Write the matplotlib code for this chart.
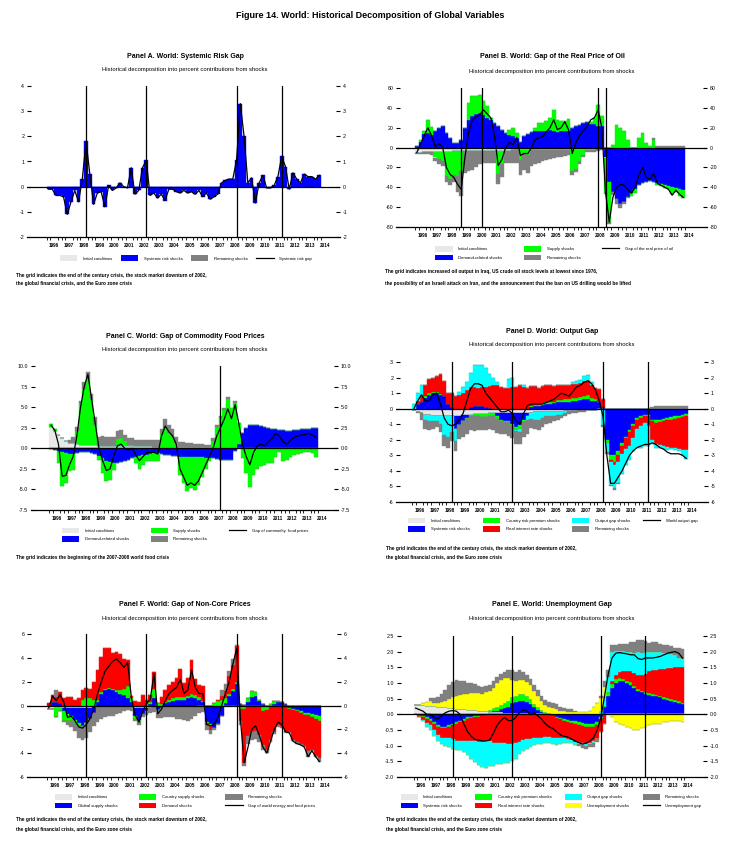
import numpy as np
import matplotlib
matplotlib.use('Agg')
import matplotlib.pyplot as plt
from matplotlib.patches import Patch
from matplotlib.lines import Line2D

plt.rcParams['font.family'] = ['Liberation Sans', 'DejaVu Sans']

# quarterly data 1996Q1 - 2014Q1
years = list(range(1996, 2015))

# Panel A: systemic risk gap
sys_a = [-0.1, -0.1, -0.35, -0.35, -0.4, -1.1, -0.6, -0.15, -0.6, 0.3, 1.8, 0.5,
         -0.7, -0.25, -0.2, -0.8, 0.05, -0.15, -0.05, 0.15, 0.0, -0.05, 0.75, -0.3,
         -0.15, 0.75, 1.05, -0.35, -0.25, -0.45, -0.3, -0.55, -0.1, -0.1, -0.2, -0.25,
         -0.15, -0.25, -0.2, -0.3, -0.15, -0.4, -0.25, -0.5, -0.4, -0.3, 0.15, 0.25,
         0.3, 0.3, 1.05, 3.3, 2.0, 0.15, 0.35, -0.65, 0.15, 0.45, -0.05, -0.05,
         0.05, 0.4, 1.2, 0.8, -0.1, 0.55, 0.3, 0.15, 0.5, 0.4, 0.4, 0.3, 0.45]
gap_a = sys_a

# Panel B: gap of the real price of oil
init_b = [-5, -5, -4.5, -4.5, -4.5, -4, -4, -4, -4, -4, -3.5, -3.5,
          -3.5, -3.5, -3.5, -3, -3, -3, -3, -3, -3, -3, -3, -3,
          -3, -3, -2.5, -2.5, -2.5, -2.5, -2.5, -2.5, -2.5, -2.5, -2, -2,
          -2, -2, -2, -2, -2, -2, -2, -2, -2, -2, -2, -2,
          -2, -1.5, -1, 0, 0, 0, 0, 0, 0, 0, 0, 0,
          0, 0, 0, 0, 0, 0, 0, 0, 0, 0, 0, 0, 0]
dem_b = [2, 6, 14, 15, 13, 17, 20, 22, 15, 10, 5, 5,
         8, 20, 28, 32, 34, 35, 33, 30, 28, 25, 22, 18,
         15, 13, 12, 10, 6, 12, 14, 16, 17, 17, 17, 17,
         18, 17, 16, 17, 17, 17, 20, 22, 23, 25, 26, 24,
         24, 22, 22, -10, -35, -45, -52, -57, -55, -50, -46, -42,
         -38, -36, -35, -34, -35, -36, -37, -38, -39, -40, -41, -42, -43]
sup_b = [0, 2, 3, 13, 8, -6, -8, -10, -25, -28, -24, -25,
         -20, 0, 17, 20, 18, 18, 14, 12, 2, 0, -24, -14,
         0, 5, 8, 5, -10, -3, -5, 0, 3, 8, 8, 10,
         12, 21, 12, 10, 10, 12, -22, -20, -12, -5, 0, 2,
         6, 21, 10, -36, -40, 3, 23, 20, 17, 8, -3, -4,
         10, 15, 5, 2, 8, -2, -2, -3, -3, -7, -4, -7, -8]
rem_b = [-1, -1.5, -2, -2, -3, -4, -5, -5, -6, -6, -7, -16,
         -25, -22, -20, -20, -17, -14, -13, -13, -13, -13, -10, -13,
         -13, -13, -13, -13, -15, -17, -18, -16, -14, -13, -12, -11,
         -10, -9, -8, -7, -6, -5, -4, -3, -3, -2, -2, -2,
         -2, -2, -1, -1, -2, -3, -5, -4, -2, -1, 0, 0,
         0, 0, 0, 0, 2, 2, 2, 2, 2, 2, 2, 2, 2]
gap_b = [-5, 3, 12, 20, 12, 1, 4, 0, -20, -27, -30, -37,
         -42, -10, 15, 28, 31, 33, 38, 34, 30, 12, -18, -12,
         0, 5, 3, 10, -8, -6, -6, 0, 8, 10, 11, 16,
         20, 28, 18, 20, 26, 18, -6, 5, 12, 17, 21, 28,
         30, 38, 20, -45, -75, -50, -40, -37, -38, -42, -46, -40,
         -28, -20, -30, -32, -26, -36, -38, -40, -42, -48, -43, -47, -50]

# Panel C: gap of commodity food prices
init_c = [2.6, 2.1, 1.6, 1.2, 0.9, 0.7, 0.6, 0.5, 0.45, 0.4, 0.4, 0.35,
          0.35, 0.3, 0.3, 0.3, 0.3, 0.3, 0.3, 0.3, 0.25, 0.25, 0.25, 0.25,
          0.25, 0.25, 0.25, 0.25, 0.2, 0.2, 0.2, 0.2, 0.2, 0.2, 0.2, 0.2,
          0.15, 0.15, 0.15, 0.15, 0.15, 0.15, 0.15, 0.15, 0.1, 0.1, 0.1, 0.1,
          0.05, 0.05, 0, 0, 0, 0, 0, 0, 0, 0, 0, 0,
          0, 0, 0, 0, 0, 0, 0, 0, 0, 0, 0, 0, 0]
dem_c = [-0.1, -0.2, -0.3, -0.5, -0.6, -0.7, -0.7, -0.6, -0.5, -0.5, -0.5, -0.6,
         -0.7, -0.9, -1.2, -1.5, -1.7, -1.8, -1.8, -1.7, -1.6, -1.4, -1.2, -1.0,
         -0.9, -0.8, -0.8, -0.7, -0.6, -0.6, -0.7, -0.8, -0.8, -0.9, -0.9, -1.0,
         -1.0, -1.0, -1.0, -1.0, -1.1, -1.1, -1.2, -1.2, -1.2, -1.3, -1.4, -1.4,
         -1.4, -1.4, -0.3, 0.5, 1.9, 2.5, 2.8, 2.8, 2.8, 2.7, 2.6, 2.5,
         2.4, 2.3, 2.2, 2.2, 2.1, 2.1, 2.2, 2.2, 2.3, 2.4, 2.4, 2.5, 2.5]
sup_c = [0.3, 0.2, -1.5, -4.1, -3.6, -2.0, -1.9, 1.6, 5.0, 6.8, 8.0, 5.5,
         2.5, -0.5, -1.8, -2.5, -2.2, -0.8, 0.8, 1.0, 0.6, 0.2, 0.2, -0.8,
         -1.6, -1.2, -0.7, -0.8, -0.9, -1.0, 1.5, 2.3, 1.6, 1.2, 0.4, -2.2,
         -3.2, -4.2, -3.8, -4.1, -3.4, -2.4, -1.3, -0.3, 0.8, 2.5, 3.6, 4.6,
         6.0, 4.8, 5.5, 2.6, -1.2, -3.0, -4.7, -3.2, -2.5, -2.2, -2.0, -1.8,
         -1.8, -1.0, -0.5, -1.5, -1.4, -1.0, -0.8, -0.7, -0.6, -0.5, -0.4, -0.6, -1.0]
rem_c = [0, 0, 0, 0, 0, 0.3, 0.8, 0.5, 0.3, 0.8, 0.9, 0.8,
         1.0, 1.1, 1.2, 1.1, 1.1, 1.1, 1.0, 0.9, 0.8, 0.8, 0.8, 0.8,
         0.8, 0.8, 0.8, 0.8, 0.8, 0.8, 0.6, 1.0, 1.0, 1.0, 0.8, 0.6,
         0.6, 0.5, 0.5, 0.4, 0.4, 0.4, 0.3, 0.3, 0.3, 0.2, 0.2, 0.2,
         0.2, 0.1, 0.2, 0, 0, 0, 0, 0, 0, 0, 0, 0,
         0, 0, 0, 0, 0, 0, 0, 0, 0, 0, 0, 0, 0]
gap_c = [2.8, 2.2, 0.5, -3.4, -3.3, -2.0, -1.0, 1.5, 5.0, 7.5, 9.0, 6.0,
         3.0, 0.0, -1.5, -2.7, -2.5, -1.0, 0.3, 0.5, 0.0, -0.2, 0.0, -0.8,
         -1.5, -1.0, -0.5, -0.5, -0.5, -0.7, 1.5, 2.7, 2.0, 1.5, 0.5, -2.5,
         -3.5, -4.5, -4.2, -4.5, -4.0, -3.0, -2.0, -1.0, 0.0, 1.5, 2.5, 3.5,
         4.8, 3.6, 5.3, 3.0, 0.5, -1.0, -2.0, -0.5, 0.3, 0.5, 0.3, 0.8,
         1.2, 1.8, 1.5, 0.8, 0.5, 1.0, 1.3, 1.5, 1.6, 1.7, 1.8, 1.6, 1.3]

# Panel D: output gap
init_d = [-0.1, -0.2, -0.3, -0.4, -0.4, -0.5, -0.5, -0.5, -0.5, -0.5, -0.5, -0.5,
          -0.45, -0.4, -0.4, -0.4, -0.35, -0.35, -0.35, -0.35, -0.3, -0.3, -0.3, -0.3,
          -0.3, -0.3, -0.3, -0.3, -0.25, -0.25, -0.25, -0.25, -0.2, -0.2, -0.2, -0.2,
          -0.2, -0.2, -0.2, -0.2, -0.15, -0.15, -0.15, -0.15, -0.1, -0.1, -0.1, -0.1,
          -0.1, -0.05, 0, 0, 0, 0, 0, 0, 0, 0, 0, 0,
          0, 0, 0, 0, 0, 0, 0, 0, 0, 0, 0, 0, 0]
sys_d = [0, 0.3, 0.4, 0.7, 0.9, 1.0, 1.0, 0.9, 0.8, 0.3, 0.1, -0.8,
         -0.6, -0.4, -0.2, 0.1, 0.2, 0.2, 0.2, 0.1, 0.05, 0, -0.2, -0.4,
         -0.5, -0.5, -0.7, -0.9, -0.8, -0.5, -0.2, 0.1, 0.2, 0.2, 0.25, 0.3,
         0.3, 0.35, 0.4, 0.4, 0.45, 0.45, 0.5, 0.5, 0.55, 0.6, 0.6, 0.5,
         0.5, 0.4, 0.1, -2.0, -3.0, -3.0, -2.7, -2.2, -1.8, -1.4, -1.0, -0.6,
         -0.5, -0.4, -0.4, -0.7, -0.75, -0.7, -0.65, -0.6, -0.55, -0.5, -0.45, -0.4, -0.35]
crp_d = [0, 0, 0.05, 0.1, 0.1, 0.1, 0.1, 0.05, 0, 0, 0, 0,
         0, 0, -0.05, -0.1, -0.1, -0.15, -0.2, -0.2, -0.2, -0.2, -0.15, -0.1,
         -0.05, -0.05, -0.1, -0.15, -0.25, -0.1, 0, 0.05, 0.05, 0.05, 0.1, 0.1,
         0.1, 0.1, 0.15, 0.15, 0.15, 0.15, 0.2, 0.2, 0.2, 0.2, 0.25, 0.2,
         0.1, 0.05, -0.05, -0.2, -0.3, -0.4, -0.3, -0.2, -0.1, -0.1, -0.1, -0.1,
         -0.1, -0.1, -0.1, -0.1, -0.15, -0.15, -0.15, -0.15, -0.15, -0.15, -0.15, -0.15, -0.1]
rir_d = [0, 0.2, 0.4, 0.7, 0.9, 0.9, 1.0, 1.3, 1.0, 0.7, 0.9, 0.8,
         0.9, 1.0, 1.2, 1.3, 1.2, 1.1, 1.2, 1.3, 1.4, 1.5, 1.5, 1.4,
         1.3, 1.3, 1.4, 1.4, 1.5, 1.4, 1.3, 1.3, 1.2, 1.1, 1.1, 1.1,
         1.1, 1.0, 1.0, 1.0, 0.9, 0.9, 0.9, 0.9, 0.9, 1.0, 0.9, 0.8,
         0.7, 0.8, 0.5, 0, -0.1, -0.2, -0.4, -0.5, -0.7, -0.9, -0.8, -0.6,
         -0.5, -0.4, -0.6, -1.2, -1.4, -1.5, -1.6, -1.7, -1.8, -1.9, -2.0, -2.1, -2.2]
og_d = [0.3, 0.5, 0.7, -0.3, -0.4, -0.3, -0.3, -0.5, -1.2, -1.3, -1.0, -0.8,
        0.2, 0.4, 0.5, 0.9, 1.4, 1.5, 1.4, 1.2, 0.8, 0.5, 0.2, 0,
        0, 0.6, 0.6, -0.1, -0.2, 0.1, -0.3, -0.4, -0.5, -0.5, -0.4, -0.3,
        -0.3, -0.3, -0.2, -0.2, -0.1, 0, 0.1, 0.2, 0.2, 0.3, 0.4, 0.2,
        0, 0, -1.0, -0.6, -1.5, -1.5, -1.4, -1.3, -1.0, -0.9, -0.8, -1.2,
        -1.4, -1.5, -1.3, -0.3, -0.2, -0.2, -0.2, -0.2, -0.1, -0.1, -0.1, -0.3, -0.6]
rem_d = [0, -0.1, -0.4, -0.6, -0.6, -0.5, -0.4, -0.5, -0.7, -0.7, -0.6, -0.6,
         -0.9, -1.0, -1.0, -0.9, -1.0, -0.9, -0.8, -0.8, -0.8, -0.9, -0.9, -0.8,
         -0.8, -0.9, -0.8, -0.8, -0.8, -1.0, -0.9, -0.6, -0.6, -0.7, -0.6, -0.5,
         -0.4, -0.3, -0.3, -0.2, -0.2, -0.2, -0.1, -0.1, -0.1, -0.1, 0, 0,
         0, 0, -0.1, -0.1, -0.1, -0.1, -0.05, 0, 0, 0, 0, 0,
         0, 0, 0, 0.1, 0.15, 0.15, 0.15, 0.15, 0.15, 0.15, 0.2, 0.2, 0.2]
gap_d = [0.0, 0.5, 0.9, 0.5, 0.5, 0.9, 1.0, 0.3, -0.6, -1.0, -1.1, -1.0,
         -0.7, -0.3, 0.5, 1.3, 1.6, 1.6, 1.5, 1.0, 0.7, 0.4, 0.1, -0.2,
         -0.2, -0.1, -0.3, -0.8, -1.0, -0.3, 0.2, 0.3, 0.3, 0.3, 0.3, 0.4,
         0.5, 0.6, 0.8, 1.0, 0.9, 0.8, 1.1, 1.4, 1.5, 1.7, 1.8, 1.6,
         1.2, 0.5, -0.5, -3.0, -4.8, -4.8, -4.4, -4.0, -3.5, -3.0, -2.7, -2.5,
         -2.4, -2.3, -2.3, -2.2, -2.3, -2.5, -2.6, -2.8, -2.9, -2.9, -2.9, -3.0, -3.2]

# Panel F: gap of non-core prices
init_f = [-0.3, -0.3, -0.25, -0.25, -0.2, -0.2, -0.2, -0.2, -0.2, -0.2, -0.2, -0.2,
          -0.15, -0.15, -0.15, -0.15, -0.15, -0.15, -0.15, -0.15, -0.1, -0.1, -0.15, -0.2,
          -0.2, -0.2, -0.2, -0.2, -0.15, -0.15, -0.15, -0.15, -0.1, -0.1, -0.1, -0.1,
          -0.1, -0.1, -0.1, -0.1, -0.05, -0.05, -0.05, -0.05, -0.05, -0.05, -0.05, -0.05,
          0, 0, 0, 0, 0, 0, 0, 0, 0, 0, 0, 0,
          0, 0, 0, 0, 0, 0, 0, 0, 0, 0, 0, 0, 0]
gsup_f = [0, 0.3, 0.3, 0.2, -0.3, -0.5, -0.7, -1.0, -1.3, -1.5, -1.3, -0.9,
          -0.5, 0.3, 1.0, 1.3, 1.4, 1.3, 1.1, 1.0, 0.9, 0.6, 0.3, -0.7,
          -1.0, -0.5, -0.3, 0.1, 0.6, -0.2, -0.1, 0.2, 0.3, 0.4, 0.5, 0.5,
          0.5, 0.6, 0.7, 0.6, 0.5, 0.3, -1.3, -1.5, -1.8, -1.5, -0.8, 0.2,
          0.8, 1.2, 1.8, 0.1, 0.05, 0.3, 0.7, 0.8, 0.4, 0.1, 0.0, 0.0,
          0.1, 0.3, 0.3, 0.1, -0.2, -0.3, -0.4, -0.5, -0.6, -0.6, -0.7, -0.8, -0.9]
csup_f = [0, 0, -0.7, -0.2, -0.8, -0.6, -0.4, -0.3, -0.2, 0.5, 0.6, 0.6,
          0.5, 0.2, 0.1, 0.1, 0.1, 0.1, 0.2, 0.3, 0.5, 1.0, 0.3, -0.2,
          -0.2, 0.0, 0.1, 0.2, 0.8, 0.2, 0.1, 0.1, 0.2, 0.2, 0.2, 0.2,
          0.2, 0.2, 0.3, 0.3, 0.2, 0.1, -0.1, -0.2, 0.2, 0.4, 0.5, 0.4,
          0.2, 0.2, 0.2, -0.3, -0.3, 0.3, 0.5, 0.3, 0.1, -0.5, -0.4, 0.1,
          0.3, 0.1, 0.0, -0.1, -0.1, -0.1, -0.1, -0.15, -0.2, -0.2, -0.3, -0.3, -0.4]
dem_f = [0.2, 0.6, 0.4, 0.9, 0.6, 0.7, 0.7, 0.5, 0.6, 0.8, 0.9, 0.8,
         1.5, 2.5, 3.0, 3.4, 3.3, 3.0, 3.2, 3.0, 2.5, 2.2, 0.2, 0.4,
         0.3, 0.9, 0.4, 0.6, 1.4, 0.0, 0.6, 1.0, 1.2, 1.4, 1.6, 2.4,
         1.2, 1.5, 2.8, 1.3, 1.0, 1.2, -0.2, -0.3, 0.0, 0.1, 0.3, 0.6,
         1.5, 2.0, 3.0, -1.0, -4.5, -2.6, -2.2, -2.1, -2.5, -2.8, -3.3, -2.9,
         -2.2, -1.6, -1.8, -2.1, -1.9, -2.5, -2.6, -2.6, -2.6, -3.0, -2.7, -3.1, -3.1]
rem_f = [0, 0, 0.6, 0, -0.1, -0.3, -0.5, -0.6, -1.0, -1.2, -1.2, -1.1,
         -1.1, -1.2, -1.0, -0.8, -0.7, -0.7, -0.6, -0.5, -0.4, -0.3, -0.3, -0.2,
         -0.2, -0.3, -0.3, -0.4, -0.4, -0.7, -0.8, -0.8, -0.9, -0.9, -1.0, -1.0,
         -1.1, -1.2, -1.0, -0.8, -0.6, -0.5, -0.4, -0.3, -0.2, -0.1, 0.5, 0.6,
         0.4, 0.5, 0.1, -0.3, -0.3, -0.6, -0.7, -0.7, -0.6, -0.4, -0.3, -0.2,
         -0.2, -0.2, -0.1, -0.1, -0.1, -0.1, -0.1, -0.1, -0.1, -0.5, -0.1, -0.1, -0.3]
gap_f = [-0.2, 0.8, 0.4, 0.9, 0.3, -1.0, -0.9, -1.3, -1.8, -1.9, -1.6, -1.1,
         -0.3, 1.0, 2.0, 2.9, 3.3, 3.7, 3.9, 3.6, 3.2, 3.6, 0.6, -0.8,
         -1.4, -0.5, 0.2, 0.5, 2.7, -0.7, -0.3, 0.4, 1.0, 1.3, 1.5, 2.2,
         1.0, 1.3, 3.0, 1.5, 1.0, 1.0, -1.6, -1.7, -1.6, -1.0, 0.0, 1.0,
         2.0, 3.5, 4.8, -1.2, -4.8, -3.5, -2.0, -1.7, -2.5, -3.5, -4.0, -3.0,
         -2.0, -1.4, -1.6, -2.2, -2.3, -3.0, -3.2, -3.3, -3.5, -4.3, -3.8, -4.3, -4.7]

# Panel E: unemployment gap
init_e = [0.3, 0.3, 0.3, 0.28, 0.27, 0.26, 0.25, 0.24, 0.22, 0.2, 0.19, 0.18,
          0.17, 0.16, 0.15, 0.14, 0.13, 0.12, 0.11, 0.1, 0.09, 0.08, 0.07, 0.06,
          0.05, 0.05, 0.05, 0.05, 0.04, 0.04, 0.04, 0.04, 0.03, 0.03, 0.03, 0.03,
          0.02, 0.02, 0.02, 0.02, 0.02, 0.02, 0.02, 0.02, 0.02, 0.02, 0.02, 0.02,
          0.02, 0.02, 0.02, 0.02, 0, 0, 0, 0, 0, 0, 0, 0,
          0, 0, 0, 0, 0, 0, 0, 0, 0, 0, 0, 0, 0]
sys_e = [0, -0.02, -0.05, -0.1, -0.15, -0.25, -0.35, -0.4, -0.4, -0.35, -0.3, -0.25,
         -0.2, -0.15, -0.1, -0.08, -0.06, -0.05, -0.04, -0.02, 0, 0.02, 0.05, 0.1,
         0.15, 0.2, 0.3, 0.35, 0.4, 0.4, 0.35, 0.3, 0.2, 0.12, 0.05, 0.0,
         -0.03, -0.06, -0.1, -0.12, -0.15, -0.18, -0.2, -0.22, -0.25, -0.27, -0.3, -0.3,
         -0.3, -0.25, -0.1, 0.2, 0.6, 0.85, 1.0, 1.05, 1.05, 1.0, 0.95, 0.85,
         0.75, 0.7, 0.65, 0.62, 0.6, 0.58, 0.55, 0.5, 0.47, 0.44, 0.4, 0.36, 0.32]
crp_e = [0, 0, -0.02, -0.04, -0.05, -0.05, -0.05, -0.05, -0.05, -0.05, -0.05, -0.05,
         -0.05, -0.05, -0.04, -0.03, -0.02, -0.02, -0.01, 0, 0.05, 0.1, 0.12, 0.14,
         0.15, 0.17, 0.2, 0.2, 0.22, 0.2, 0.18, 0.15, 0.1, 0.07, 0.05, 0.03,
         0.02, 0, -0.02, -0.03, -0.05, -0.07, -0.08, -0.1, -0.1, -0.1, -0.1, -0.1,
         -0.1, -0.08, -0.05, 0.05, 0.1, 0.12, 0.12, 0.1, 0.08, 0.07, 0.07, 0.06,
         0.06, 0.05, 0.05, 0.05, 0.05, 0.05, 0.05, 0.05, 0.05, 0.05, 0.05, 0.05, 0.05]
rir_e = [0, -0.05, -0.1, -0.15, -0.15, -0.2, -0.25, -0.3, -0.3, -0.35, -0.45, -0.55,
         -0.6, -0.65, -0.7, -0.75, -0.78, -0.8, -0.82, -0.84, -0.85, -0.9, -0.9, -0.9,
         -0.9, -0.95, -0.95, -0.92, -0.88, -0.82, -0.8, -0.78, -0.76, -0.75, -0.74, -0.72,
         -0.7, -0.68, -0.65, -0.6, -0.55, -0.55, -0.55, -0.55, -0.55, -0.55, -0.55, -0.5,
         -0.45, -0.45, -0.4, -0.3, 0, 0.1, 0.15, 0.2, 0.25, 0.3, 0.35, 0.4,
         0.45, 0.5, 0.6, 0.7, 0.75, 0.8, 0.85, 0.9, 0.95, 1.0, 1.05, 1.1, 1.15]
og_e = [0, -0.03, -0.05, -0.1, -0.15, -0.2, -0.2, -0.2, -0.25, -0.3, -0.3, -0.3,
        -0.3, -0.35, -0.45, -0.55, -0.65, -0.75, -0.8, -0.85, -0.8, -0.75, -0.7, -0.7,
        -0.65, -0.6, -0.55, -0.5, -0.4, -0.35, -0.3, -0.25, -0.22, -0.2, -0.2, -0.2,
        -0.2, -0.2, -0.2, -0.2, -0.15, -0.12, -0.1, -0.1, -0.05, -0.05, -0.05, -0.05,
        -0.05, 0, 0.1, 0.3, 0.5, 0.93, 0.75, 0.68, 0.65, 0.63, 0.63, 0.65,
        0.72, 0.72, 0.68, 0.62, 0.6, 0.57, 0.55, 0.52, 0.48, 0.44, 0.38, 0.3, 0.25]
un_e = [0, 0, 0.05, 0.12, 0.15, 0.1, 0.1, 0.15, 0.2, 0.3, 0.35, 0.4,
        0.45, 0.5, 0.5, 0.55, 0.55, 0.55, 0.55, 0.6, 0.6, 0.65, 0.75, 0.8,
        0.8, 0.75, 0.55, 0.45, 0.45, 0.45, 0.45, 0.45, 0.4, 0.35, 0.3, 0.25,
        0.2, 0.18, 0.15, 0.1, 0.08, 0.06, 0.05, 0.05, 0.05, 0.05, 0.05, 0.1,
        0.2, 0.35, 0.4, 0.3, 0, -0.1, -0.25, -0.3, -0.35, -0.4, -0.45, -0.5,
        -0.5, -0.45, -0.4, -0.35, -0.3, -0.3, -0.3, -0.25, -0.25, -0.2, -0.2, -0.2, -0.25]
rem_e = [0, 0, 0, 0, 0.1, 0.15, 0.2, 0.25, 0.35, 0.45, 0.5, 0.5,
         0.45, 0.4, 0.35, 0.3, 0.3, 0.25, 0.2, 0.2, 0.2, 0.2, 0.2, 0.2,
         0.2, 0.25, 0.3, 0.3, 0.3, 0.25, 0.25, 0.2, 0.2, 0.2, 0.15, 0.15,
         0.15, 0.15, 0.15, 0.1, 0.1, 0.1, 0.1, 0.05, -0.05, -0.1, -0.1, -0.1,
         -0.15, -0.1, 0.05, 0.2, 0.2, 0.2, 0.2, 0.2, 0.2, 0.25, 0.3, 0.35,
         0.4, 0.4, 0.35, 0.3, 0.3, 0.3, 0.25, 0.25, 0.25, 0.25, 0.25, 0.3, 0.3]
gap_e = [0.2, 0.15, 0.1, 0.0, 0.0, -0.1, -0.15, -0.05, 0.05, 0.1, 0.12, 0.1,
         0.0, -0.3, -0.55, -0.7, -0.8, -0.82, -0.85, -0.85, -0.82, -0.6, -0.35, -0.2,
         -0.1, -0.2, -0.2, -0.1, 0.05, 0.15, 0.1, 0.0, 0.05, -0.05, -0.15, -0.3,
         -0.4, -0.45, -0.55, -0.65, -0.7, -0.72, -0.78, -0.85, -0.9, -0.95, -0.92, -0.85,
         -0.75, -0.5, -0.1, 0.6, 1.3, 1.8, 1.95, 1.97, 1.95, 1.93, 1.9, 1.9,
         1.78, 1.75, 1.8, 1.8, 1.8, 1.82, 1.85, 1.9, 1.95, 1.98, 2.0, 1.95, 1.8]

C_INIT, C_BLUE, C_GREEN, C_RED = '#e8e8e8', '#0000ff', '#00ff00', '#ff0000'
C_CYAN, C_YEL, C_GRAY = '#00ffff', '#ffff00', '#808080'

W, H = 743, 841
fig = plt.figure(figsize=(W / 100, H / 100), dpi=100)
xq = 1996 + 0.25 * np.arange(len(sys_a)) + 0.125

NOTE = 3.4


def txt(x, y, s, size, bold=False, ha='center'):
    fig.text(x / W, 1 - y / H, s, ha=ha, va='center', fontsize=size,
             fontweight='bold' if bold else 'normal')


def panel(box, xlim, ylim, yticks, fmt, comps, cols, gap, vlines):
    l, t, r, b = box
    ax = fig.add_axes([l / W, 1 - b / H, (r - l) / W, (b - t) / H])
    pos = np.zeros(len(xq))
    neg = np.zeros(len(xq))
    for vals, c in zip(comps, cols):
        v = np.asarray(vals, float)
        p = np.where(v > 0, v, 0)
        q = np.where(v < 0, v, 0)
        ax.bar(xq, p, 0.25, bottom=pos, color=c, edgecolor=c, lw=0.3, zorder=1)
        ax.bar(xq, q, 0.25, bottom=neg, color=c, edgecolor=c, lw=0.3, zorder=1)
        pos += p
        neg += q
    ax.plot(xq, gap, color='black', lw=0.9, zorder=4)
    ax.axhline(0, color='black', lw=0.9, zorder=3)
    for v in vlines:
        ax.axvline(v, color='black', lw=0.9, zorder=3)
    ax.set_xlim(xlim)
    ax.set_ylim(ylim)
    for s in ['top', 'left', 'right']:
        ax.spines[s].set_visible(False)
    ax.spines['bottom'].set_linewidth(0.9)
    ax.set_yticks(yticks)
    ax.set_yticklabels([fmt % y for y in yticks])
    ax.tick_params(axis='y', direction='in', length=3, width=0.8, labelsize=3.8,
                   left=True, right=True, labelleft=True, labelright=True, pad=2)
    ax.set_xticks([y + 0.5 for y in years])
    ax.set_xticklabels([str(y) for y in years], fontweight='bold')
    ax.set_xticks(1996 + 0.25 * np.arange(74), minor=True)
    ax.tick_params(axis='x', which='major', length=0, labelsize=3.3, pad=4.5)
    ax.tick_params(axis='x', which='minor', length=2.5, width=0.6, direction='out')
    return ax


def legend(cx, top, labels, cols, line_label, ncol, colsp):
    hs = [Patch(facecolor=c, edgecolor='none', label=s) for s, c in zip(labels, cols)]
    hs.append(Line2D([], [], color='black', lw=0.9, label=line_label))
    fig.legend(handles=hs, loc='upper center', bbox_to_anchor=(cx / W, 1 - top / H),
               ncol=ncol, frameon=False, fontsize=3.1, handlelength=4.0, handleheight=1.6,
               handletextpad=1.3, columnspacing=colsp, labelspacing=0.75,
               borderpad=0, borderaxespad=0)


crisis = [1998.625, 2002.625, 2008.625, 2011.625]
sub = 'Historical decomposition into percent contributions from shocks'
note1 = 'The grid indicates the end of the century crisis, the stock market downturn of 2002,'
note2 = 'the global financial crisis, and the Euro zone crisis'

txt(370, 15, 'Figure 14. World: Historical Decomposition of Global Variables', 6.5, True)

# Panel A
txt(185, 56, 'Panel A. World: Systemic Risk Gap', 5.0, True)
txt(185, 69, sub, 4.2)
panel((27, 86, 340, 237), (1994.7, 2015.5), (-2, 4), range(-2, 5), '%d',
      [sys_a], [C_BLUE], gap_a, crisis)
legend(186, 255.5, ['Initial conditions', 'Systemic risk shocks', 'Remaining shocks'],
       [C_INIT, C_BLUE, C_GRAY], 'Systemic risk gap', 4, 2.0)
txt(16, 275, note1, NOTE, True, 'left')
txt(16, 283.5, note2, NOTE, True, 'left')

# Panel B
txt(552, 57, 'Panel B. World: Gap of the Real Price of Oil', 5.0, True)
txt(552, 71, sub, 4.2)
panel((396, 88, 707, 227), (1994.72, 2015.73), (-80, 60), range(-80, 61, 20), '%d',
      [init_b, dem_b, sup_b, rem_b], [C_INIT, C_BLUE, C_GREEN, C_GRAY], gap_b,
      [1999.125, 2000.5, 2008.375, 2008.875])
legend(554, 246, ['Initial conditions', 'Demand-related shocks', 'Supply shocks', 'Remaining shocks'],
       [C_INIT, C_BLUE, C_GREEN, C_GRAY], 'Gap of the real price of oil', 3, 5)
txt(385, 271, 'The grid indicates increased oil output in Iraq, US crude oil stock levels at lowest since 1976,', NOTE, True, 'left')
txt(385, 283.5, 'the possibility of an Israeli attack on Iran, and the announcement that the ban on US drilling would be lifted', NOTE, True, 'left')

# Panel C
txt(185, 336, 'Panel C. World: Gap of Commodity Food Prices', 5.0, True)
txt(185, 349, sub, 4.2)
panel((31, 366, 338, 510), (1994.76, 2015.61), (-7.5, 10), np.arange(-7.5, 10.1, 2.5), '%.1f',
      [init_c, dem_c, sup_c, rem_c], [C_INIT, C_BLUE, C_GREEN, C_GRAY], gap_c, [2007.625])
legend(185, 527.5, ['Initial conditions', 'Demand-related shocks', 'Supply shocks', 'Remaining shocks'],
       [C_INIT, C_BLUE, C_GREEN, C_GRAY], 'Gap of commodity  food prices', 3, 5)
txt(16, 557, 'The grid indicates the beginning of the 2007-2008 world food crisis', NOTE, True, 'left')

# Panel D
txt(552, 332, 'Panel D. World: Output Gap', 5.0, True)
txt(552, 344.5, sub, 4.2)
panel((396, 362, 708, 502), (1994.94, 2015.56), (-6, 3), range(-6, 4), '%d',
      [init_d, sys_d, crp_d, rir_d, og_d, rem_d],
      [C_INIT, C_BLUE, C_GREEN, C_RED, C_CYAN, C_GRAY], gap_d, crisis)
legend(553, 517.5, ['Initial conditions', 'Systemic risk shocks', 'Country risk premium shocks',
                    'Real interest rate shocks', 'Output gap shocks', 'Remaining shocks'],
       [C_INIT, C_BLUE, C_GREEN, C_RED, C_CYAN, C_GRAY], 'World output gap', 4, 3)
txt(386, 548.5, note1, NOTE, True, 'left')
txt(386, 557, note2, NOTE, True, 'left')

# Panel F
txt(185, 605, 'Panel F. World: Gap of Non-Core Prices', 5.0, True)
txt(185, 618.5, sub, 4.2)
panel((27, 634, 341, 777), (1994.68, 2015.56), (-6, 6), range(-6, 7, 2), '%d',
      [init_f, gsup_f, csup_f, dem_f, rem_f],
      [C_INIT, C_BLUE, C_GREEN, C_RED, C_GRAY], gap_f, crisis)
legend(185, 794, ['Initial conditions', 'Global supply shocks', 'Country supply shocks',
                  'Demand shocks', 'Remaining shocks'],
       [C_INIT, C_BLUE, C_GREEN, C_RED, C_GRAY], 'Gap of world energy and food prices', 3, 5)
txt(16, 820, note1, NOTE, True, 'left')
txt(16, 829.5, note2, NOTE, True, 'left')

# Panel E
txt(552, 605, 'Panel E. World: Unemployment Gap', 5.0, True)
txt(552, 618.5, sub, 4.2)
panel((397, 636, 707, 777), (1994.87, 2015.78), (-2, 2.5), np.arange(-2, 2.51, 0.5), '%.1f',
      [init_e, sys_e, crp_e, rir_e, og_e, un_e, rem_e],
      [C_INIT, C_BLUE, C_GREEN, C_RED, C_CYAN, C_YEL, C_GRAY], gap_e, crisis)
legend(551, 794, ['Initial conditions', 'Systemic risk shocks', 'Country risk premium shocks',
                  'Real interest rate shocks', 'Output gap shocks', 'Unemployment shocks',
                  'Remaining shocks'],
       [C_INIT, C_BLUE, C_GREEN, C_RED, C_CYAN, C_YEL, C_GRAY], 'Unemployment gap', 4, 3)
txt(386, 820, note1, NOTE, True, 'left')
txt(386, 829.5, note2, NOTE, True, 'left')

fig.savefig('out.png', dpi=100)
